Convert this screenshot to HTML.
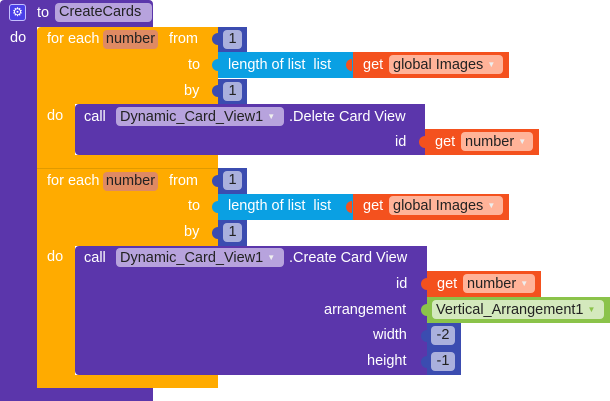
<!DOCTYPE html>
<html><head><style>
body{margin:0;width:610px;height:401px;background:#fff;position:relative;overflow:hidden;font-family:"Liberation Sans",Arial,sans-serif;font-size:14.5px;}
div{position:absolute;box-sizing:border-box;}
.t{color:#fff;white-space:nowrap;line-height:18px;}
.pl{border-radius:4px;color:#222;white-space:nowrap;line-height:19px;padding:0 4px;height:19px;}
.pu{background:#5b36ab;}
.or{background:#ffab00;}
.bl{background:#3b4cb0;}
.cy{background:#0aa0e3;}
.rd{background:#f4511e;}
.gr{background:#8bc34a;}
.nub{width:6px;height:12px;border-radius:6px 0 0 6px;}
.arr{font-size:8px;color:#eee;vertical-align:2px;}
.num{padding:0 2px;text-align:center;}
</style></head><body>
<!-- outer procedure -->
<div class="pu" style="left:0;top:0;width:153px;height:27px;border-radius:4px 4px 0 0"></div>
<div class="pu" style="left:0;top:27px;width:37px;height:374px;"></div>
<div class="pu" style="left:0;top:388px;width:153px;height:13px;"></div>
<div style="left:9px;top:4px;width:17px;height:17px;background:#4a3fe8;border:1px solid #c5c0ff;border-radius:3px;color:#fff;font-size:12px;line-height:15px;text-align:center">⚙</div>
<div class="t" style="left:37px;top:4px">to</div>
<div class="pl" style="left:55px;top:3px;background:#b7a3dd;width:97px">CreateCards</div>
<div class="t" style="left:10px;top:29px">do</div>

<!-- loop 1 -->
<div class="or" style="left:37px;top:27px;width:181px;height:77px;border-radius:4px 0 0 0"></div>
<div class="or" style="left:37px;top:104px;width:38px;height:64px;"></div>
<div class="or" style="left:37px;top:155px;width:181px;height:13px;"></div>
<div class="t" style="left:47px;top:30px">for each</div>
<div class="pl num" style="left:103px;top:30px;background:#df8a63;width:55px">number</div>
<div class="t" style="left:169px;top:30px">from</div>
<div class="t" style="left:188px;top:56px">to</div>
<div class="t" style="left:184px;top:82px">by</div>
<div class="t" style="left:47px;top:107px">do</div>
<div class="bl" style="left:218px;top:27px;width:29px;height:25px"></div>
<div class="bl nub" style="left:212px;top:33px"></div>
<div class="pl num" style="left:223px;top:30px;background:#aab0dd;width:19px">1</div>
<div class="cy" style="left:218px;top:52px;width:135px;height:26px"></div>
<div class="cy nub" style="left:212px;top:59px"></div>
<div class="t" style="left:228px;top:56px">length of list&nbsp; list</div>
<div class="rd" style="left:353px;top:52px;width:156px;height:26px"></div>
<div class="rd nub" style="left:346px;top:59px"></div>
<div class="t" style="left:363px;top:56px">get</div>
<div class="pl" style="left:389px;top:55px;background:#ffb399;width:114px">global Images <span class="arr">▼</span></div>
<div class="bl" style="left:218px;top:79px;width:29px;height:25px"></div>
<div class="bl nub" style="left:212px;top:85px"></div>
<div class="pl num" style="left:223px;top:82px;background:#aab0dd;width:19px">1</div>
<div class="pu" style="left:75px;top:104px;width:350px;height:51px;border-radius:4px 0 0 4px"></div>
<div class="t" style="left:84px;top:108px">call</div>
<div class="pl" style="left:116px;top:107px;background:#b7a3dd;width:168px">Dynamic_Card_View1 <span class="arr">▼</span></div>
<div class="t" style="left:289px;top:108px">.Delete Card View</div>
<div class="t" style="left:395px;top:133px">id</div>
<div class="rd" style="left:425px;top:129px;width:114px;height:26px"></div>
<div class="rd nub" style="left:419px;top:136px"></div>
<div class="t" style="left:435px;top:133px">get</div>
<div class="pl" style="left:461px;top:132px;background:#ffb399;width:72px">number <span class="arr">▼</span></div>

<!-- loop 2 -->
<div class="or" style="left:37px;top:168px;width:181px;height:78px;border-top:1px solid #e09a00"></div>
<div class="or" style="left:37px;top:246px;width:38px;height:142px;"></div>
<div class="or" style="left:37px;top:375px;width:181px;height:13px;"></div>
<div class="t" style="left:47px;top:172px">for each</div>
<div class="pl num" style="left:103px;top:172px;background:#df8a63;width:55px">number</div>
<div class="t" style="left:169px;top:172px">from</div>
<div class="t" style="left:188px;top:197px">to</div>
<div class="t" style="left:184px;top:223px">by</div>
<div class="t" style="left:47px;top:248px">do</div>
<div class="bl" style="left:218px;top:168px;width:29px;height:26px"></div>
<div class="bl nub" style="left:212px;top:175px"></div>
<div class="pl num" style="left:223px;top:171px;background:#aab0dd;width:19px">1</div>
<div class="cy" style="left:218px;top:194px;width:135px;height:26px"></div>
<div class="cy nub" style="left:212px;top:201px"></div>
<div class="t" style="left:228px;top:197px">length of list&nbsp; list</div>
<div class="rd" style="left:353px;top:194px;width:156px;height:26px"></div>
<div class="rd nub" style="left:346px;top:201px"></div>
<div class="t" style="left:363px;top:197px">get</div>
<div class="pl" style="left:389px;top:196px;background:#ffb399;width:114px">global Images <span class="arr">▼</span></div>
<div class="bl" style="left:218px;top:220px;width:29px;height:26px"></div>
<div class="bl nub" style="left:212px;top:227px"></div>
<div class="pl num" style="left:223px;top:223px;background:#aab0dd;width:19px">1</div>
<div class="pu" style="left:75px;top:246px;width:352px;height:129px;border-radius:4px 0 0 4px"></div>
<div class="t" style="left:84px;top:249px">call</div>
<div class="pl" style="left:116px;top:248px;background:#b7a3dd;width:168px">Dynamic_Card_View1 <span class="arr">▼</span></div>
<div class="t" style="left:289px;top:249px">.Create Card View</div>
<div class="t" style="left:396px;top:275px">id</div>
<div class="t" style="left:324px;top:301px">arrangement</div>
<div class="t" style="left:373px;top:326px">width</div>
<div class="t" style="left:367px;top:352px">height</div>
<div class="rd" style="left:427px;top:271px;width:114px;height:26px"></div>
<div class="rd nub" style="left:421px;top:278px"></div>
<div class="t" style="left:437px;top:275px">get</div>
<div class="pl" style="left:463px;top:274px;background:#ffb399;width:72px">number <span class="arr">▼</span></div>
<div class="gr" style="left:427px;top:297px;width:183px;height:26px"></div>
<div class="gr nub" style="left:421px;top:304px"></div>
<div class="pl" style="left:432px;top:300px;background:#d4e9bd;width:172px">Vertical_Arrangement1 <span class="arr" style="color:#8bc34a">▼</span></div>
<div class="bl" style="left:427px;top:323px;width:34px;height:26px"></div>
<div class="bl nub" style="left:421px;top:330px"></div>
<div class="pl num" style="left:431px;top:326px;background:#aab0dd;width:24px">-2</div>
<div class="bl" style="left:427px;top:349px;width:34px;height:26px"></div>
<div class="bl nub" style="left:421px;top:356px"></div>
<div class="pl num" style="left:431px;top:352px;background:#aab0dd;width:24px">-1</div>
</body></html>
